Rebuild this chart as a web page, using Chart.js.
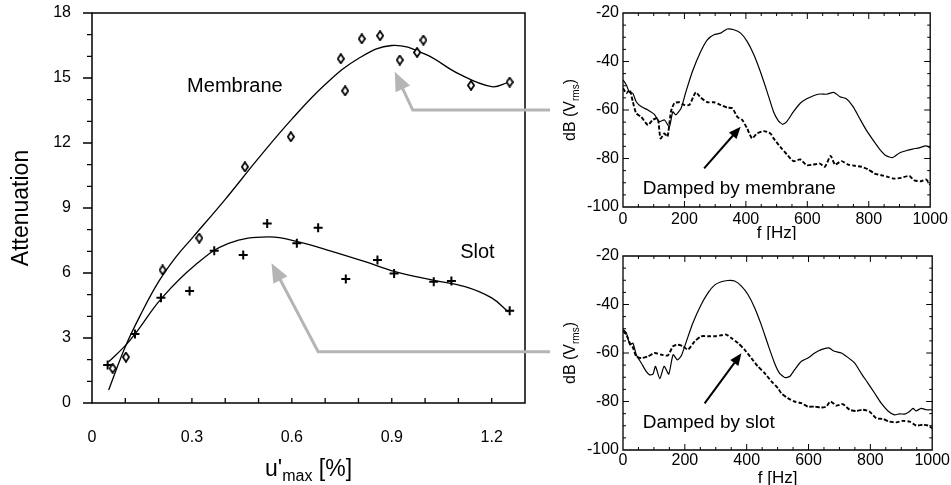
<!DOCTYPE html>
<html>
<head>
<meta charset="utf-8">
<script src="https://cdn.jsdelivr.net/npm/chart.js@4.4.1/dist/chart.umd.min.js"></script>
<style>
  body { margin: 0; background: #fff; }
  #wrap { position: relative; width: 951px; height: 485px; overflow: hidden; background: #fff; }
  canvas { position: absolute; }
</style>
</head>
<body>
<div id="wrap">
  <canvas id="main" width="560" height="485" style="left:0;top:0"></canvas>
  <canvas id="specTop" width="391" height="240" style="left:560px;top:0"></canvas>
  <canvas id="specBot" width="391" height="242" style="left:560px;top:243px"></canvas>
</div>
<script>
const FONT = '"Liberation Sans", Arial, Helvetica, sans-serif';
Chart.defaults.font.family = FONT;
Chart.defaults.color = "#000";

// Attenuation vs u'max (measured points)
const membraneX = [0.062, 0.102, 0.212, 0.322, 0.459, 0.597, 0.747, 0.760, 0.810, 0.865, 0.924, 0.976, 0.995, 1.138, 1.254];
const membraneY = [1.6, 2.12, 6.14, 7.61, 10.9, 12.29, 15.89, 14.41, 16.81, 16.95, 15.83, 16.18, 16.75, 14.66, 14.81];
const slotX = [0.047, 0.129, 0.207, 0.293, 0.367, 0.454, 0.526, 0.615, 0.679, 0.762, 0.857, 0.907, 1.026, 1.079, 1.254];
const slotY = [1.75, 3.18, 4.86, 5.17, 7.03, 6.83, 8.29, 7.37, 8.09, 5.72, 6.6, 5.98, 5.6, 5.63, 4.26];

// fitted curves
const membraneFitX = [0.05, 0.1, 0.15, 0.2, 0.25, 0.3, 0.4, 0.5, 0.6, 0.7, 0.8, 0.9, 1.0, 1.1, 1.2, 1.25];
const membraneFitY = [0.6, 2.6, 4.2, 5.6, 6.7, 7.6, 9.4, 11.3, 13.1, 14.7, 15.9, 16.5, 16.1, 15.2, 14.6, 14.8];
const slotFitX = [0.05, 0.1, 0.13, 0.21, 0.31, 0.41, 0.53, 0.62, 0.72, 0.82, 0.91, 1.02, 1.12, 1.2, 1.25];
const slotFitY = [1.9, 2.65, 3.2, 4.85, 6.37, 7.37, 7.67, 7.44, 7.0, 6.52, 6.06, 5.68, 5.37, 4.85, 4.2];

const mainXLabels = [0, 0.3, 0.6, 0.9, 1.2];
const mainYLabels = [0, 3, 6, 9, 12, 15, 18];

// spectra, top panel (membrane)
const topSolidHz = [0, 11, 21, 32, 43, 59, 81, 102, 118, 135, 151, 162, 172, 189, 205, 226, 253, 275, 296, 318, 339, 361, 383, 404, 426, 447, 469, 490, 506, 520, 533, 555, 577, 598, 620, 641, 663, 686, 706, 727, 749, 770, 792, 814, 835, 857, 878, 900, 921, 943, 964, 986, 1000];
const topSolidDb = [-47.6, -49.7, -52.7, -53.1, -56.6, -58.6, -60, -61.8, -64.8, -64.1, -66.9, -60.7, -62, -59.3, -52.4, -44.1, -35.9, -31, -29, -28.3, -26.6, -26.9, -28.3, -31.7, -37.2, -44.1, -52.4, -60.7, -64.5, -65.9, -64.8, -60.7, -57.2, -55.4, -54.1, -53.4, -53.5, -52.7, -54.5, -55.4, -58.6, -63.4, -68.3, -72.4, -76.1, -78.9, -79.6, -77.7, -76.8, -76.1, -75.6, -74.8, -75.6];
const topDashHz = [0, 11, 22, 32, 43, 59, 81, 97, 113, 122, 135, 145, 156, 167, 183, 199, 216, 237, 253, 275, 296, 318, 339, 356, 372, 388, 404, 420, 436, 458, 480, 490, 512, 533, 555, 577, 598, 620, 641, 657, 676, 690, 711, 733, 754, 776, 797, 819, 841, 862, 884, 905, 932, 948, 970, 986, 1000];
const topDashDb = [-51, -53.1, -51.7, -56.6, -61.4, -62.8, -66.2, -64.1, -63.4, -71.7, -69.7, -71, -60.7, -57.2, -56.8, -57.9, -57.9, -52.7, -54.9, -56.8, -56.8, -57.9, -59, -59.3, -62.8, -64.1, -67.6, -71.7, -69.7, -68.7, -69.7, -71.7, -75.2, -78.3, -81.1, -80.4, -82.8, -82.5, -82.1, -83.4, -78.9, -82.5, -81.1, -82.5, -83, -83.4, -84.4, -86.2, -86.9, -87.6, -88.3, -88, -87.2, -89, -89.4, -88.6, -90.8];

// spectra, bottom panel (slot)
const botSolidHz = [0, 11, 22, 32, 43, 59, 75, 86, 97, 105, 119, 133, 148, 162, 176, 189, 205, 226, 253, 275, 296, 318, 339, 361, 383, 404, 426, 447, 469, 490, 506, 523, 539, 555, 577, 598, 620, 641, 665, 684, 706, 727, 749, 770, 792, 814, 835, 857, 878, 894, 911, 927, 938, 948, 964, 981, 1000];
const botSolidDb = [-50.3, -51.7, -56.6, -55.9, -60.7, -64.1, -67.6, -69, -68.7, -65.5, -70.6, -65.5, -68.7, -60.7, -62.8, -61, -55.2, -47.6, -40, -35.2, -32, -30.6, -30.1, -30.3, -32.4, -35.9, -41.4, -48.3, -56.6, -64.1, -68.3, -70.1, -69.7, -66.9, -63.4, -62.1, -60, -58.6, -57.9, -59.3, -60, -61.8, -64.1, -68.3, -72.4, -76.6, -80.7, -83.9, -85.5, -85.1, -85.2, -84.1, -82.8, -83.9, -82.8, -83.4, -83.4];
const botDashHz = [0, 11, 22, 32, 43, 59, 81, 102, 124, 145, 162, 178, 194, 210, 232, 253, 275, 296, 318, 334, 350, 372, 393, 415, 436, 458, 480, 501, 512, 533, 555, 577, 598, 620, 641, 657, 671, 690, 711, 733, 754, 776, 797, 819, 841, 862, 884, 905, 927, 948, 970, 986, 1000];
const botDashDb = [-51, -52.4, -55.9, -57.7, -61.4, -62.1, -61.4, -60, -60.7, -61, -57.2, -56.6, -57.2, -58.6, -55.2, -53.1, -53.1, -53.1, -52.7, -52.4, -53.8, -55.9, -58.6, -62.1, -65.5, -68.3, -71.7, -74.5, -76.6, -78.6, -80, -80.7, -82.1, -82.1, -82.5, -82.1, -80, -81.7, -81.1, -83.4, -83.9, -83.4, -84.1, -86.9, -87.2, -88.3, -88.6, -88, -88.3, -89.9, -89.6, -89.9, -91];

const specXLabels = [0, 200, 400, 600, 800, 1000];
const specYLabels = [-100, -80, -60, -40, -20];

function pts(xs, ys) {
  return xs.map((x, i) => ({ x: x, y: ys[i] }));
}
function isLabel(list, v) {
  return list.some(l => Math.abs(l - v) < 1e-6);
}

// narrow open diamond marker
function makeDiamond() {
  const c = document.createElement("canvas");
  c.width = 8; c.height = 11;
  const g = c.getContext("2d");
  g.beginPath();
  g.moveTo(4, 0.9); g.lineTo(7.1, 5.5); g.lineTo(4, 10.1); g.lineTo(0.9, 5.5);
  g.closePath();
  g.fillStyle = "#fff"; g.fill();
  g.lineWidth = 1.7; g.strokeStyle = "#000"; g.stroke();
  return c;
}

function frame(ctx, a, lw) {
  ctx.lineWidth = lw;
  ctx.setLineDash([]);
  ctx.beginPath();
  ctx.moveTo(a.left, a.top);
  ctx.lineTo(a.right, a.top);
  ctx.lineTo(a.right, a.bottom);
  ctx.lineTo(a.left, a.bottom);
  ctx.closePath();
  ctx.stroke();
}

function arrow(ctx, path, color, lw, headLen, headHalf) {
  const n = path.length;
  const [tx, ty] = path[n - 1];
  const [bx, by] = path[n - 2];
  const ang = Math.atan2(ty - by, tx - bx);
  const baseX = tx - Math.cos(ang) * headLen;
  const baseY = ty - Math.sin(ang) * headLen;
  ctx.save();
  ctx.strokeStyle = color; ctx.fillStyle = color; ctx.lineWidth = lw;
  ctx.beginPath();
  ctx.moveTo(path[0][0], path[0][1]);
  for (let i = 1; i < n - 1; i++) ctx.lineTo(path[i][0], path[i][1]);
  ctx.lineTo(baseX + Math.cos(ang) * 2, baseY + Math.sin(ang) * 2);
  ctx.stroke();
  ctx.beginPath();
  ctx.moveTo(tx, ty);
  ctx.lineTo(baseX - Math.sin(ang) * headHalf, baseY + Math.cos(ang) * headHalf);
  ctx.lineTo(baseX + Math.sin(ang) * headHalf, baseY - Math.cos(ang) * headHalf);
  ctx.closePath();
  ctx.fill();
  ctx.restore();
}

// text made of a base part, a subscript part and a tail part, centred on 0
function subText(ctx, base, sub, tail, size, subSize, subDrop) {
  ctx.font = size + "px " + FONT;
  const w1 = ctx.measureText(base).width;
  const w3 = ctx.measureText(tail).width;
  ctx.font = subSize + "px " + FONT;
  const w2 = ctx.measureText(sub).width;
  let x = -(w1 + w2 + w3) / 2;
  ctx.textAlign = "left";
  ctx.font = size + "px " + FONT;
  ctx.fillText(base, x, 0);
  x += w1;
  ctx.font = subSize + "px " + FONT;
  ctx.fillText(sub, x, subDrop);
  x += w2;
  ctx.font = size + "px " + FONT;
  ctx.fillText(tail, x, 0);
}

const mainDecor = {
  id: "mainDecor",
  afterDraw(chart) {
    const { ctx, chartArea: a, scales: { x, y } } = chart;
    ctx.save();
    ctx.strokeStyle = "#000";
    frame(ctx, a, 1.5);

    ctx.lineWidth = 1.3;
    ctx.beginPath();
    y.ticks.forEach(t => {
      const py = y.getPixelForValue(t.value);
      const len = isLabel(mainYLabels, t.value) ? 9 : 5;
      ctx.moveTo(a.left - len, py);
      ctx.lineTo(a.left, py);
    });
    x.ticks.forEach(t => {
      if (t.value <= 1e-6 || t.value >= 1.3 - 1e-6) return;
      const px = x.getPixelForValue(t.value);
      ctx.moveTo(px, a.bottom);
      ctx.lineTo(px, a.bottom - 5);
    });
    ctx.stroke();

    ctx.fillStyle = "#000";
    ctx.textAlign = "center";
    ctx.textBaseline = "middle";
    ctx.font = "20px " + FONT;
    ctx.fillText("Membrane", x.getPixelForValue(0.429), y.getPixelForValue(14.63));
    ctx.fillText("Slot", x.getPixelForValue(1.157), y.getPixelForValue(6.94));

    ctx.save();
    ctx.translate(22, (a.top + a.bottom) / 2);
    ctx.rotate(-Math.PI / 2);
    ctx.font = "23px " + FONT;
    ctx.fillText("Attenuation", 0, 0);
    ctx.restore();

    ctx.save();
    ctx.translate((a.left + a.right) / 2, 476);
    ctx.textBaseline = "alphabetic";
    subText(ctx, "u'", "max", " [%]", 23, 16, 5);
    ctx.restore();

    const gray = "#b5b5b5";
    arrow(ctx, [
      [550, y.getPixelForValue(13.52)],
      [x.getPixelForValue(0.963), y.getPixelForValue(13.52)],
      [x.getPixelForValue(0.909), y.getPixelForValue(15.29)]
    ], gray, 3, 19, 8);
    arrow(ctx, [
      [550, y.getPixelForValue(2.37)],
      [x.getPixelForValue(0.679), y.getPixelForValue(2.37)],
      [x.getPixelForValue(0.539), y.getPixelForValue(6.45)]
    ], gray, 3, 19, 8);
    ctx.restore();
  }
};

new Chart(document.getElementById("main"), {
  type: "scatter",
  data: {
    datasets: [
      {
        label: "Membrane",
        data: pts(membraneX, membraneY),
        pointStyle: makeDiamond(),
        pointRadius: 4,
        showLine: false
      },
      {
        label: "Slot",
        data: pts(slotX, slotY),
        pointStyle: "cross",
        pointRadius: 4.5,
        borderColor: "#000",
        borderWidth: 2,
        showLine: false
      },
      {
        label: "Membrane fit",
        data: pts(membraneFitX, membraneFitY),
        showLine: true,
        pointRadius: 0,
        borderColor: "#000",
        borderWidth: 1.3,
        tension: 0.4
      },
      {
        label: "Slot fit",
        data: pts(slotFitX, slotFitY),
        showLine: true,
        pointRadius: 0,
        borderColor: "#000",
        borderWidth: 1.3,
        tension: 0.4
      }
    ]
  },
  options: {
    responsive: false,
    animation: false,
    events: [],
    layout: { padding: { left: 0, right: 35, top: 13, bottom: 0 } },
    plugins: { legend: { display: false }, tooltip: { enabled: false } },
    scales: {
      x: {
        type: "linear",
        min: 0,
        max: 1.3,
        afterFit: s => { s.height = 82; },
        grid: { display: false, drawTicks: false },
        border: { display: false },
        ticks: {
          stepSize: 0.1,
          autoSkip: false,
          maxRotation: 0,
          padding: 25,
          font: { size: 16 },
          callback: v => isLabel(mainXLabels, v) ? String(Math.round(v * 10) / 10) : ""
        }
      },
      y: {
        type: "linear",
        min: 0,
        max: 18,
        afterFit: s => { s.width = 92; s.paddingTop = 8; s.paddingBottom = 8; },
        grid: { display: false, drawTicks: false },
        border: { display: false },
        ticks: {
          stepSize: 1,
          autoSkip: false,
          padding: 21,
          font: { size: 16 },
          callback: v => isLabel(mainYLabels, v) ? String(v) : ""
        }
      }
    }
  },
  plugins: [mainDecor]
});

function specChart(id, solidHz, solidDb, dashHz, dashDb, note, noteAt, tail, tip, xPad, xHeight) {
  const decor = {
    id: "specDecor",
    afterDraw(chart) {
      const { ctx, chartArea: a, scales: { x, y } } = chart;
      ctx.save();
      ctx.strokeStyle = "#000";
      frame(ctx, a, 1.3);
      ctx.lineWidth = 1;
      ctx.beginPath();
      x.ticks.forEach(t => {
        if (t.value <= 0 || t.value >= 1000) return;
        const px = x.getPixelForValue(t.value);
        const len = isLabel(specXLabels, t.value) ? 6 : 3;
        ctx.moveTo(px, a.bottom); ctx.lineTo(px, a.bottom - len);
        ctx.moveTo(px, a.top); ctx.lineTo(px, a.top + len);
      });
      y.ticks.forEach(t => {
        if (t.value <= -100 || t.value >= -20) return;
        const py = y.getPixelForValue(t.value);
        const len = isLabel(specYLabels, t.value) ? 6 : 3;
        ctx.moveTo(a.left, py); ctx.lineTo(a.left + len, py);
        ctx.moveTo(a.right, py); ctx.lineTo(a.right - len, py);
      });
      ctx.stroke();

      ctx.fillStyle = "#000";
      ctx.textBaseline = "middle";
      ctx.textAlign = "left";
      ctx.font = "19px " + FONT;
      ctx.fillText(note, x.getPixelForValue(noteAt[0]), y.getPixelForValue(noteAt[1]));

      arrow(ctx, [
        [x.getPixelForValue(tail[0]), y.getPixelForValue(tail[1])],
        [x.getPixelForValue(tip[0]), y.getPixelForValue(tip[1])]
      ], "#000", 2, 12, 5);

      ctx.textAlign = "center";
      ctx.textBaseline = "middle";
      ctx.font = "17px " + FONT;
      ctx.fillText("f [Hz]", (a.left + a.right) / 2, chart.height - 7);

      ctx.save();
      ctx.translate(11, (a.top + a.bottom) / 2);
      ctx.rotate(-Math.PI / 2);
      ctx.textBaseline = "middle";
      subText(ctx, "dB (V", "rms", ")", 16, 10, 5);
      ctx.restore();
      ctx.restore();
    }
  };

  return new Chart(document.getElementById(id), {
    type: "scatter",
    data: {
      datasets: [
        {
          label: "Undamped",
          data: pts(solidHz, solidDb),
          showLine: true,
          pointRadius: 0,
          borderColor: "#000",
          borderWidth: 1.2,
          tension: 0.2
        },
        {
          label: note,
          data: pts(dashHz, dashDb),
          showLine: true,
          pointRadius: 0,
          borderColor: "#000",
          borderWidth: 1.9,
          borderDash: [4, 2],
          tension: 0.2
        }
      ]
    },
    options: {
      responsive: false,
      animation: false,
      events: [],
      layout: { padding: { left: 0, right: 18, top: 13, bottom: 0 } },
      plugins: { legend: { display: false }, tooltip: { enabled: false } },
      scales: {
        x: {
          type: "linear",
          min: 0,
          max: 1000,
          afterFit: s => { s.height = xHeight; },
          grid: { display: false, drawTicks: false },
          border: { display: false },
          ticks: {
            stepSize: 50,
            autoSkip: false,
            maxRotation: 0,
            padding: xPad,
            font: { size: 16 },
            callback: v => isLabel(specXLabels, v) ? String(v) : ""
          }
        },
        y: {
          type: "linear",
          min: -100,
          max: -20,
          afterFit: s => { s.width = 63; s.paddingTop = 8; s.paddingBottom = 8; },
          grid: { display: false, drawTicks: false },
          border: { display: false },
          ticks: {
            stepSize: 5,
            autoSkip: false,
            padding: 4,
            font: { size: 16 },
            callback: v => isLabel(specYLabels, v) ? String(v) : ""
          }
        }
      }
    },
    plugins: [decor]
  });
}

specChart("specTop", topSolidHz, topSolidDb, topDashHz, topDashDb,
  "Damped by membrane", [64, -92.3], [264, -84.1], [383, -66.9], 3, 33);
specChart("specBot", botSolidHz, botSolidDb, botDashHz, botDashDb,
  "Damped by slot", [64, -88.8], [264, -80.8], [383, -60.1], 1, 35);
</script>
</body>
</html>
